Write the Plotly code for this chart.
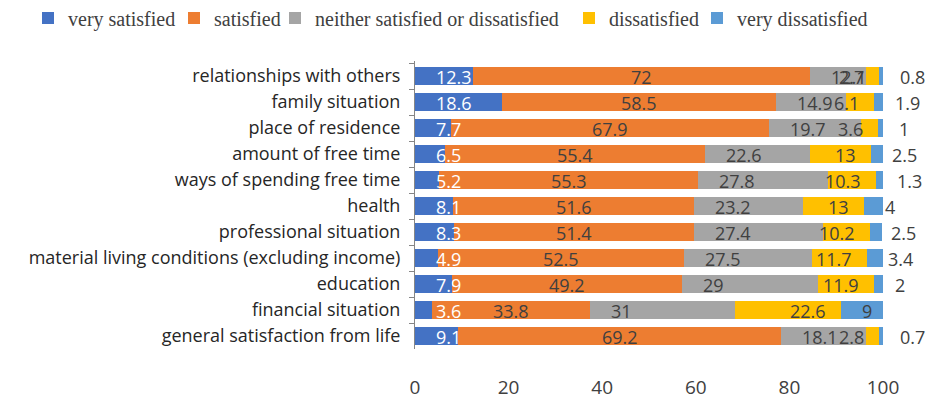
import plotly.graph_objects as go

# Survey categories (top to bottom) and the share of answers in each group (%)
categories = [
    "relationships with others",
    "family situation",
    "place of residence",
    "amount of free time",
    "ways of spending free time",
    "health",
    "professional situation",
    "material living conditions (excluding income)",
    "education",
    "financial situation",
    "general satisfaction from life",
]

very_satisfied = [12.3, 18.6, 7.7, 6.5, 5.2, 8.1, 8.3, 4.9, 7.9, 3.6, 9.1]
satisfied = [72, 58.5, 67.9, 55.4, 55.3, 51.6, 51.4, 52.5, 49.2, 33.8, 69.2]
neither = [12.1, 14.9, 19.7, 22.6, 27.8, 23.2, 27.4, 27.5, 29, 31, 18.1]
dissatisfied = [2.7, 6.1, 3.6, 13, 10.3, 13, 10.2, 11.7, 11.9, 22.6, 2.8]
very_dissatisfied = [0.8, 1.9, 1, 2.5, 1.3, 4, 2.5, 3.4, 2, 9, 0.7]

series_names = [
    "very satisfied",
    "satisfied",
    "neither satisfied or dissatisfied",
    "dissatisfied",
    "very dissatisfied",
]
x_ticks = [0, 20, 40, 60, 80, 100]

series_values = [very_satisfied, satisfied, neither, dissatisfied, very_dissatisfied]

# Styling for each series: colour, label colour, label anchoring
colors = ["#4472C4", "#ED7D31", "#A5A5A5", "#FFC000", "#5B9BD5"]
label_colors = ["#FFFFFF", "#404040", "#404040", "#404040", "#404040"]
label_modes = ["start", "center", "start", "end", "start"]

# Each series gets its own one-entry legend so the row can span the full width;
# left edges (px from the figure's left side) of the legend boxes
legend_left_px = [28, 174, 275, 569, 697]

W, H = 928, 399
SANS = "Open Sans, Lato, sans-serif"
SERIF = "Liberation Serif, Times New Roman, serif"

legend_ids = ["legend"] + [f"legend{k}" for k in range(2, len(series_names) + 1)]

fig = go.Figure()
for name, vals, col, lid in zip(series_names, series_values, colors, legend_ids):
    fig.add_trace(go.Bar(
        name=name,
        y=categories,
        x=vals,
        orientation="h",
        marker=dict(color=col, line=dict(width=0)),
        legend=lid,
        showlegend=True,
        hoverinfo="skip",
    ))

# Value labels, positioned from the stacked segment extents
annotations = []
base = [0.0] * len(categories)
for vals, mode, lcol in zip(series_values, label_modes, label_colors):
    for i, (cat, v) in enumerate(zip(categories, vals)):
        start = base[i]
        if mode == "start":
            x, anchor, shift = start, "left", 19
        elif mode == "center":
            x, anchor, shift = start + v / 2, "center", 0
        else:
            x, anchor, shift = start + v, "right", -13
        annotations.append(dict(
            x=x, y=cat, xref="x", yref="y",
            text=f"{v:g}", showarrow=False,
            xanchor=anchor, yanchor="middle", xshift=shift, yshift=-1,
            font=dict(family=SANS, size=18, color=lcol),
        ))
        base[i] = start + v

legend_layout = {}
for lid, left in zip(legend_ids, legend_left_px):
    legend_layout[lid] = dict(
        orientation="h",
        xref="container", yref="container",
        x=left / W, xanchor="left",
        y=1 - 18 / H, yanchor="middle",
        font=dict(family=SERIF, size=20, color="#404040"),
        bgcolor="rgba(0,0,0,0)",
        itemclick=False,
        itemdoubleclick=False,
    )

fig.update_layout(
    width=W,
    height=H,
    showlegend=True,
    barmode="stack",
    bargap=0.33,
    plot_bgcolor="white",
    paper_bgcolor="white",
    margin=dict(l=415, r=45, t=61, b=50),
    annotations=annotations,
    xaxis=dict(
        range=[0, 100],
        tickvals=x_ticks,
        ticktext=[str(t) for t in x_ticks],
        automargin=False,
        showgrid=False,
        zeroline=False,
        showline=False,
        ticks="",
        ticklabelstandoff=25,
        tickfont=dict(family=SANS, size=19, color="#404040"),
    ),
    yaxis=dict(
        autorange="reversed",
        dtick=1,
        automargin=False,
        showgrid=False,
        zeroline=False,
        showline=True,
        linecolor="#868686",
        linewidth=1,
        ticks="outside",
        tickson="boundaries",
        ticklen=5,
        tickcolor="#868686",
        ticklabelstandoff=10,
        tickfont=dict(family=SANS, size=18, color="#262626"),
    ),
    **legend_layout,
)

fig.write_html("out.html")
